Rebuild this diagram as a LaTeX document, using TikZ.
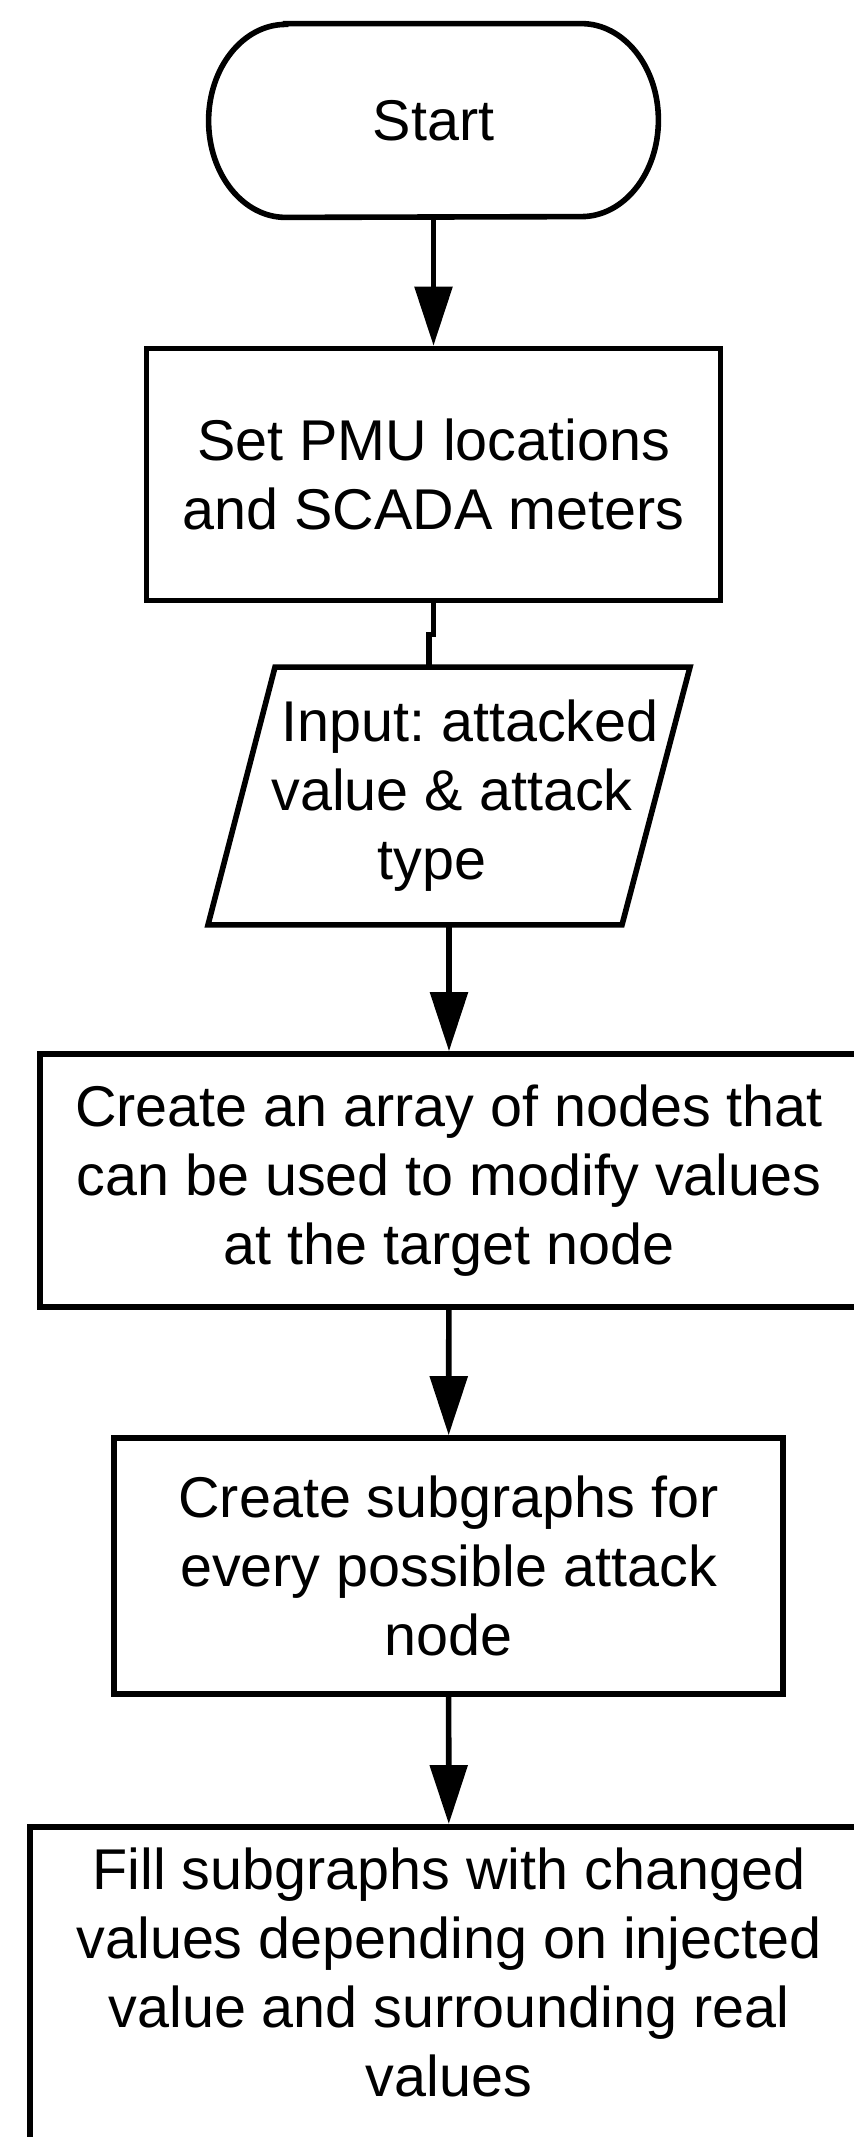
\documentclass[tikz,border=0pt]{standalone}
\usepackage{fontspec}
\setmainfont{Liberation Sans}
\usetikzlibrary{arrows.meta}
\frenchspacing
\begin{document}
\begin{tikzpicture}[x=0.5pt,y=-0.5pt,
  every node/.style={font=\fontsize{28.75pt}{34.5pt}\selectfont\frenchspacing, align=center, inner sep=0pt},
  blk/.style={draw, line width=2.8pt, rectangle},
  plain/.style={line width=2.8pt},
  flow/.style={line width=2.8pt, -{Triangle[length=29.5pt,width=18.5pt]}}]
\useasboundingbox (0,0) rectangle (853,2137);
% start terminal (stadium with elliptical ends)
\node[minimum width=224.5pt, minimum height=96.5pt] (start) at (433.5,120.5) {Start};
\draw[plain] ([xshift=38.5pt]start.north west) -- ([xshift=-38.5pt]start.north east)
  arc[start angle=90, end angle=-90, x radius=38.5pt, y radius=48.25pt]
  -- ([xshift=38.5pt]start.south west)
  arc[start angle=270, end angle=90, x radius=38.5pt, y radius=48.25pt] -- cycle;
% process boxes
\node[blk, minimum width=287pt, minimum height=126pt] (set) at (433.5,474.5) {Set PMU locations\\and SCADA meters};
% input parallelogram
\node[minimum width=200pt, minimum height=128.5pt] (inp) at (449,796) {\hspace*{21pt}Input: attacked\\\hspace*{3pt}value \& attack\\type\hspace*{17pt}};
\draw[plain, line join=miter] ([xshift=-120.5pt]inp.south) -- ([xshift=-87pt]inp.north) -- ([xshift=120.5pt]inp.north) -- ([xshift=86.5pt]inp.south) -- cycle;
\node[blk, minimum width=409pt, minimum height=126.5pt] (arr) at (449,1180.5) {Create an array of nodes that\\can be used to modify values\\at the target node};
\node[blk, minimum width=334.5pt, minimum height=128pt] (sub) at (448.5,1566) {Create subgraphs for\\every possible attack\\node};
\node[blk, anchor=north, minimum width=419pt, minimum height=180pt] (fillbox) at (449,1824) {};
\node (filltext) at (449,1972) {Fill subgraphs with changed\\values depending on injected\\value and surrounding real\\values};
% connectors
\draw[flow] (start) -- (set);
\draw[plain] (set.south) -- ++(0,31) -| ([xshift=-10pt]inp.north);
\draw[flow] (inp.south) -- (arr);
\draw[flow] (arr) -- (sub);
\draw[flow] (sub) -- (fillbox);
\end{tikzpicture}
\end{document}
